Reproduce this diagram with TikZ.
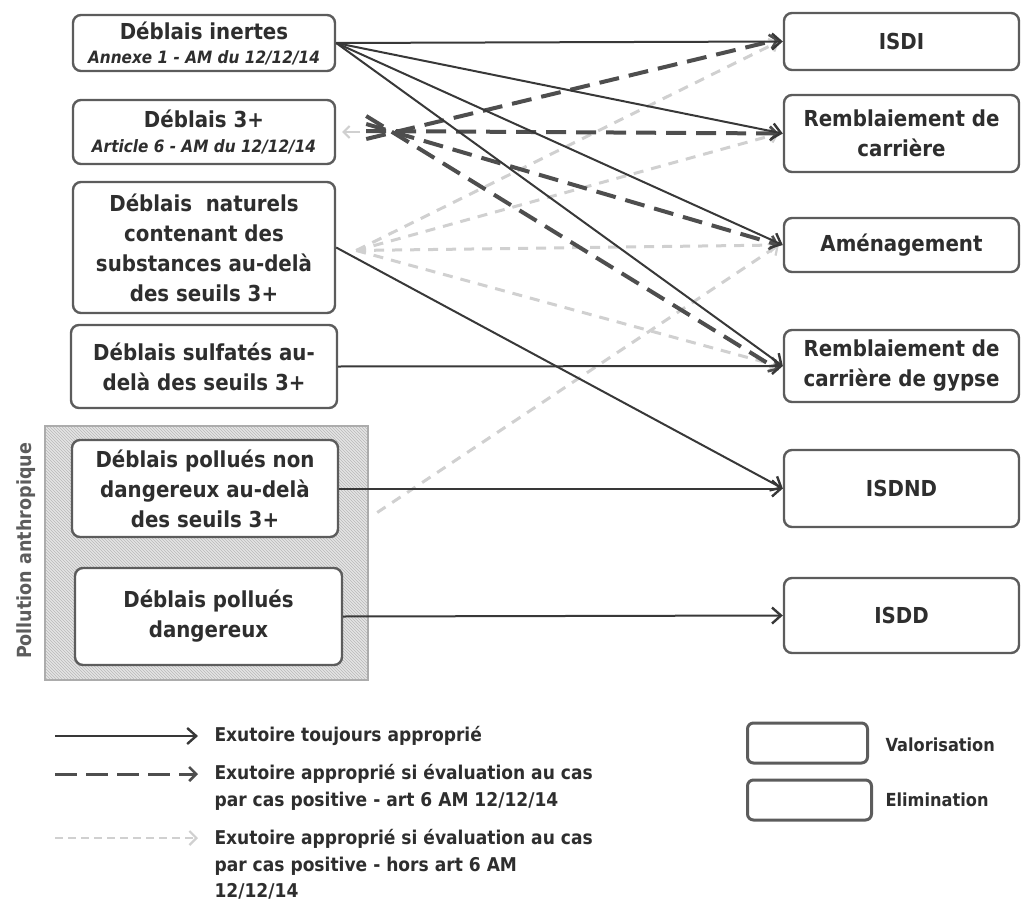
\documentclass[tikz,border=0pt]{standalone}
\usepackage{fontspec}
\setmainfont{DejaVu Sans}[FakeStretch=0.9]
\usetikzlibrary{arrows.meta,patterns}
\definecolor{ink}{HTML}{2E2E2E}
\definecolor{frame}{HTML}{5C5C5C}
\definecolor{solidc}{HTML}{383838}
\definecolor{dashc}{HTML}{4E4E4E}
\definecolor{lightc}{HTML}{D0D0D0}
\definecolor{hatchbg}{HTML}{E4E4E4}
\newcommand\reftxt[1]{{\bfseries\itshape\fontsize{17}{18}\selectfont #1}}
\tikzset{
  box/.style={draw=frame, line width=2.4pt, rounded corners=8pt, fill=white,
    inner sep=0pt, align=center, font=\bfseries\fontsize{22}{30}\selectfont, text=ink},
  always/.style={draw=solidc, line width=2pt, -{Straight Barb[length=9pt,width=16pt,line width=2.4pt]}},
  art6/.style={draw=dashc, line width=4pt, dash pattern=on 20pt off 10pt,
    -{Straight Barb[length=7pt,width=14pt,line width=2.6pt]}},
  hors6/.style={draw=lightc, line width=3pt, dash pattern=on 10pt off 8pt,
    -{Straight Barb[length=7pt,width=14pt,line width=2.2pt]}},
  legtxt/.style={anchor=west, align=left, text=ink, font=\bfseries\fontsize{19}{26.5}\selectfont},
}
\begin{document}
\begin{tikzpicture}[x=1pt,y=-1pt]
\useasboundingbox (0,0) rectangle (1021,902);

% hatched frame for anthropic pollution
\path[fill=hatchbg] (45,426) rectangle (368,680);
\path[pattern=north west lines, pattern color=gray!55] (45,426) rectangle (368,680);
\draw[draw=gray!65, line width=2pt] (45,426) rectangle (368,680);
\node[rotate=90, text=frame, font=\bfseries\fontsize{19.5}{22}\selectfont] (anthro) at (26,551) {Pollution anthropique};

% sources
\node[box, minimum width=262pt, minimum height=56pt] (inertes) at (204,43)
  {Déblais inertes\\[-6pt]\reftxt{Annexe 1 - AM du 12/12/14}};
\node[box, minimum width=262pt, minimum height=64pt] (d3) at (204,132)
  {Déblais 3+\\[-5pt]\reftxt{Article 6 - AM du 12/12/14}};
\node[box, minimum width=262pt, minimum height=131pt] (naturels) at (204,247.5)
  {Déblais\ \ naturels\\contenant des\\substances au-delà\\des seuils 3+};
\node[box, minimum width=266pt, minimum height=83pt] (sulfates) at (204,366.5)
  {Déblais sulfatés au-\\delà des seuils 3+};
\node[box, minimum width=266pt, minimum height=97pt] (polnd) at (205,488.5)
  {Déblais pollués non\\dangereux au-delà\\des seuils 3+};
\node[box, minimum width=267pt, minimum height=97pt] (pold) at (208.5,616.5)
  {Déblais pollués\\dangereux};

% outlets
\node[box, minimum width=235pt, minimum height=57pt] (isdi) at (901.5,41.5) {ISDI};
\node[box, minimum width=235pt, minimum height=77pt] (rc) at (901.5,133.5) {Remblaiement de\\carrière};
\node[box, minimum width=235pt, minimum height=54pt] (amen) at (901.5,245) {Aménagement};
\node[box, minimum width=235pt, minimum height=72pt] (gypse) at (901.5,366) {Remblaiement de\\carrière de gypse};
\node[box, minimum width=235pt, minimum height=77pt] (isdnd) at (901.5,488.5) {ISDND};
\node[box, minimum width=235pt, minimum height=75pt] (isdd) at (901.5,615.5) {ISDD};

% case-by-case outside article 6 (light)
\coordinate (nstart) at ([xshift=20pt,yshift=-3pt]naturels.east);
\coordinate (pstart) at ([xshift=38pt,yshift=-24pt]polnd.east);
\draw[hors6] (nstart) -- ([xshift=-4pt]isdi.west);
\draw[hors6] (nstart) -- ([xshift=-4pt]rc.west);
\draw[hors6] (nstart) -- ([xshift=-4pt]amen.west);
\draw[hors6] (nstart) -- ([xshift=-4pt]gypse.west);
\draw[hors6] (pstart) -- ([xshift=-4pt]amen.west);
\coordinate (d3back) at ([xshift=24pt]d3.east);
\draw[lightc, line width=2pt, -{Straight Barb[length=6pt,width=12pt,line width=2pt]}] (d3back) -- ([xshift=6pt]d3.east);

% case-by-case article 6 (dark dashed)
\draw[art6] ([xshift=30pt,yshift=-7pt]d3.east) -- ([xshift=-4pt,yshift=2pt]isdi.west);
\draw[art6] ([xshift=30pt,yshift=1pt]d3.east) -- ([xshift=-4pt]rc.west);
\draw[art6] ([xshift=30pt,yshift=8pt]d3.east) -- ([xshift=-4pt]amen.west);
\draw[art6] ([xshift=30pt,yshift=16pt]d3.east) -- ([xshift=-4pt,yshift=-4pt]gypse.west);

% always appropriate
\draw[always] (inertes.east) -- (isdi.west);
\draw[always] (inertes.east) -- (rc.west);
\draw[always] (inertes.east) -- (amen.west);
\draw[always] (inertes.east) -- (gypse.west);
\draw[always] (naturels.east) -- (isdnd.west);
\draw[always] (sulfates.east) -- (gypse.west);
\draw[always] (polnd.east) -- (isdnd.west);
\draw[always] (pold.east) -- (isdd.west);

% legend
\coordinate (l1a) at (55,736); \coordinate (l1b) at (198,736);
\coordinate (l2a) at (55,774); \coordinate (l2b) at (198,774);
\coordinate (l3a) at (55,838); \coordinate (l3b) at (198,838);
\draw[always] (l1a) -- (l1b);
\draw[art6, line width=3pt, dash pattern=on 22pt off 9pt] (l2a) -- (l2b);
\draw[hors6, line width=2.5pt, dash pattern=on 8pt off 5pt] (l3a) -- (l3b);
\node[legtxt] (t1) at (211,736) {Exutoire toujours approprié};
\node[legtxt] (t2) at (211,787.5) {Exutoire approprié si évaluation au cas\\par cas positive - art 6 AM 12/12/14};
\node[legtxt] (t3) at (211,864.5) {Exutoire approprié si évaluation au cas\\par cas positive - hors art 6 AM\\12/12/14};

\node[draw=frame, line width=3pt, rounded corners=6pt, minimum width=120pt, minimum height=40pt] (valo) at (807.5,743) {};
\node[draw=frame, line width=3pt, rounded corners=6pt, minimum width=124pt, minimum height=40pt] (elim) at (809.5,800) {};
\node[legtxt, font=\bfseries\fontsize{18}{22}\selectfont] (tvalo) at (882,745) {Valorisation};
\node[legtxt, font=\bfseries\fontsize{18}{22}\selectfont] (telim) at (882,800) {Elimination};
\end{tikzpicture}
\end{document}
